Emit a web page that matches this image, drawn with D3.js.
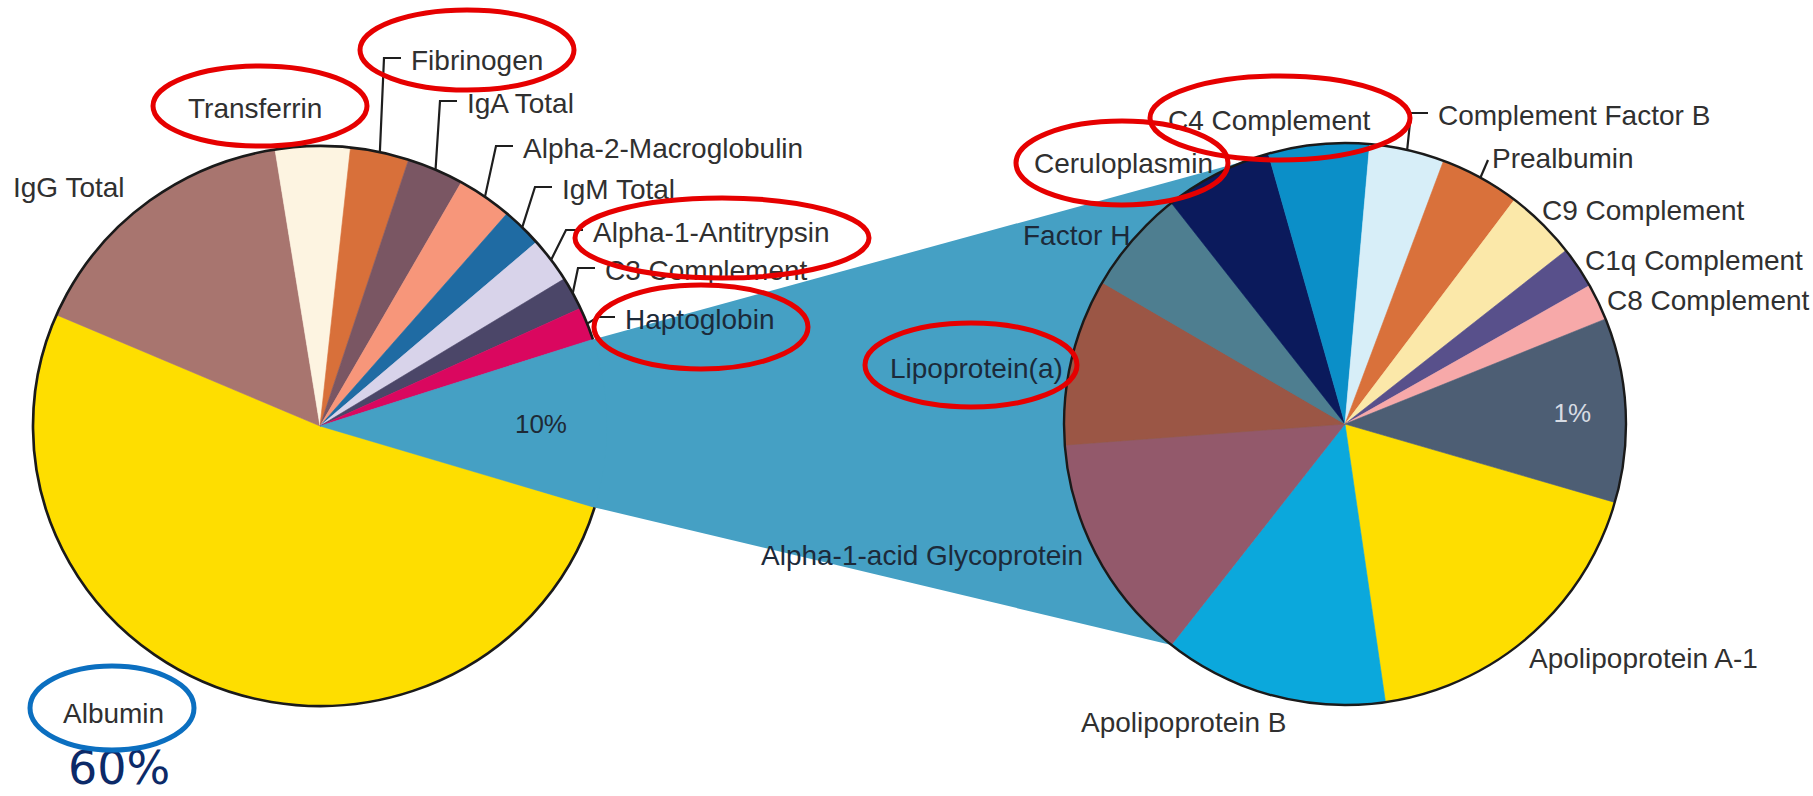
<!DOCTYPE html>
<html>
<head>
<meta charset="utf-8">
<script src="https://cdn.jsdelivr.net/npm/d3@7"></script>
<style>
  html, body { margin: 0; padding: 0; background: #fff; }
  svg { display: block; }
  text { font-family: "Liberation Sans", Arial, sans-serif; }
</style>
</head>
<body>
<svg id="chart" width="1813" height="796"></svg>
<script>
// plasma proteins, clockwise from the start of Albumin
const plasmaProteins = ['Albumin', 'IgG Total', 'Transferrin', 'Fibrinogen', 'IgA Total',
  'Alpha-2-Macroglobulin', 'IgM Total', 'Alpha-1-Antitrypsin', 'C3 Complement', 'Haptoglobin', 'Other'];
const plasmaShares = [51.8, 16.0, 4.2, 3.3, 3.2, 3.1, 2.3, 2.6, 1.9, 1.9, 9.7];
const plasmaColors = ['#fede00', '#a8756f', '#fdf4e1', '#d8703a', '#7a5663', '#f7967a',
  '#1f6ba3', '#d8d3ea', '#4b4668', '#da075f', '#45a0c4'];

// the "10%" slice broken down, clockwise from the start of Apolipoprotein A-1
const minorProteins = ['Apolipoprotein A-1', 'Apolipoprotein B', 'Alpha-1-acid Glycoprotein',
  'Lipoprotein(a)', 'Factor H', 'Ceruloplasmin', 'C4 Complement', 'Complement Factor B',
  'Prealbumin', 'C9 Complement', 'C1q Complement', 'C8 Complement', 'Other minor'];
const minorShares = [18.2, 12.9, 13.2, 9.6, 6.0, 6.2, 5.8, 4.3, 4.6, 4.1, 2.4, 2.1, 10.6];
const minorColors = ['#fede00', '#0ba8dc', '#93596b', '#9b5645', '#4e7e90', '#0b1a5c',
  '#0b8fc8', '#d7eef8', '#d9713b', '#fbe8a9', '#58508b', '#f7a9a9', '#4d5e74'];

const pctLabels = { left: '10%', right: '1%', albumin: '60%' };
const circled = ['Transferrin', 'Fibrinogen', 'Alpha-1-Antitrypsin', 'Haptoglobin',
  'Lipoprotein(a)', 'Ceruloplasmin', 'C4 Complement'];

const rad = d => d * Math.PI / 180;
const svg = d3.select('#chart');

// geometry
const L = { cx: 320, cy: 426, r: 280, sx: 1.025, start: rad(106.9) };
const R = { cx: 1345, cy: 424, r: 281, start: rad(106.2) };
const connectorTop = rad(340);

const leftPt = (a, k = 1) => [L.cx + L.sx * L.r * k * Math.sin(a), L.cy - L.r * k * Math.cos(a)];
const rightPt = (a, k = 1) => [R.cx + R.r * k * Math.sin(a), R.cy - R.r * k * Math.cos(a)];

const pieL = d3.pie().sort(null).value(d => d).startAngle(L.start).endAngle(L.start + 2 * Math.PI);
const pieR = d3.pie().sort(null).value(d => d).startAngle(R.start).endAngle(R.start + 2 * Math.PI);
const arcsL = pieL(plasmaShares);
const arcsR = pieR(minorShares);

// connector band between the two pies
const other = arcsL[arcsL.length - 1];
const band = [
  [L.cx, L.cy], leftPt(other.startAngle), rightPt(connectorTop),
  [R.cx, R.cy], rightPt(arcsR[1].endAngle), leftPt(other.endAngle)
];
svg.append('path')
  .attr('d', d3.line()(band) + 'Z')
  .attr('fill', plasmaColors[plasmaColors.length - 1]);

// left pie
const leftG = svg.append('g')
  .attr('transform', `translate(${L.cx},${L.cy}) scale(${L.sx},1)`);
const arcL = d3.arc().innerRadius(0).outerRadius(L.r);
leftG.selectAll('path.slice').data(arcsL).join('path')
  .attr('class', 'slice')
  .attr('d', arcL)
  .attr('fill', (d, i) => plasmaColors[i])
  .attr('stroke', (d, i) => plasmaColors[i])
  .attr('stroke-width', 0.6);
const rim = d3.path();
rim.arc(0, 0, L.r, other.endAngle - 2 * Math.PI - Math.PI / 2, other.startAngle - Math.PI / 2, false);
leftG.append('path')
  .attr('d', rim.toString())
  .attr('fill', 'none')
  .attr('stroke', '#1a1a1a')
  .attr('stroke-width', 2.6);

// right pie
const rightG = svg.append('g').attr('transform', `translate(${R.cx},${R.cy})`);
const arcR = d3.arc().innerRadius(0).outerRadius(R.r);
rightG.selectAll('path.slice').data(arcsR).join('path')
  .attr('class', 'slice')
  .attr('d', arcR)
  .attr('fill', (d, i) => minorColors[i])
  .attr('stroke', (d, i) => minorColors[i])
  .attr('stroke-width', 0.6);
rightG.append('circle')
  .attr('r', R.r)
  .attr('fill', 'none')
  .attr('stroke', '#1a1a1a')
  .attr('stroke-width', 2.4);

// label placement (left edge x, middle y); leader = draw an elbow line to the slice
const labelPos = {
  'IgG Total': [13, 187], 'Transferrin': [188, 108], 'Fibrinogen': [411, 60, true],
  'IgA Total': [467, 103, true], 'Alpha-2-Macroglobulin': [523, 148, true],
  'IgM Total': [562, 189, true], 'Alpha-1-Antitrypsin': [593, 232, true],
  'C3 Complement': [605, 270, true], 'Haptoglobin': [625, 319, true], 'Albumin': [63, 713],
  'C4 Complement': [1168, 120], 'Complement Factor B': [1438, 115, true],
  'Prealbumin': [1492, 158, true], 'C9 Complement': [1542, 210], 'C1q Complement': [1585, 260],
  'C8 Complement': [1607, 300], 'Ceruloplasmin': [1034, 163], 'Factor H': [1023, 235],
  'Lipoprotein(a)': [890, 368], 'Alpha-1-acid Glycoprotein': [761, 555],
  'Apolipoprotein B': [1081, 722], 'Apolipoprotein A-1': [1529, 658]
};
const onBlue = ['Factor H', 'Lipoprotein(a)', 'Haptoglobin', 'Alpha-1-acid Glycoprotein'];

const items = [];
arcsL.forEach((d, i) => items.push({ name: plasmaProteins[i], mid: (d.startAngle + d.endAngle) / 2, pt: leftPt }));
arcsR.forEach((d, i) => items.push({ name: minorProteins[i], mid: (d.startAngle + d.endAngle) / 2, pt: rightPt }));

const leaders = svg.append('g').attr('fill', 'none').attr('stroke', '#1e1e1e').attr('stroke-width', 2.2);
const labels = svg.append('g').attr('font-size', 28);
items.filter(d => labelPos[d.name]).forEach(d => {
  const [x, y, lead] = labelPos[d.name];
  if (lead) {
    const p0 = d.pt(d.mid);
    const short = d.name === 'Prealbumin';
    const pts = short ? [p0, [x - 4, y + 2]] : [p0, [x - 27, y - 2], [x - 10, y - 2]];
    leaders.append('path').attr('d', d3.line()(pts));
  }
  labels.append('text')
    .attr('x', x).attr('y', y).attr('dy', '0.35em')
    .attr('fill', onBlue.includes(d.name) ? '#1c2a3a' : '#303030')
    .text(d.name);
});

// percentage labels
const otherL = arcsL[arcsL.length - 1];
const otherR = arcsR[arcsR.length - 1];
const p10 = leftPt((otherL.startAngle + otherL.endAngle) / 2, 0.77);
svg.append('text').attr('x', p10[0]).attr('y', p10[1]).attr('dy', '0.35em')
  .attr('text-anchor', 'middle').attr('font-size', 26).attr('fill', '#1e2a36')
  .text(pctLabels.left);
const p1 = rightPt((otherR.startAngle + otherR.endAngle) / 2, 0.81);
svg.append('text').attr('x', p1[0]).attr('y', p1[1]).attr('dy', '0.35em')
  .attr('text-anchor', 'middle').attr('font-size', 26).attr('fill', '#d6dbe3')
  .text(pctLabels.right);
svg.append('text').attr('x', 119).attr('y', 784)
  .attr('text-anchor', 'middle').attr('font-size', 46)
  .style('font-family', '"DejaVu Sans", sans-serif').attr('fill', '#0c2a68')
  .text(pctLabels.albumin);

// hand-drawn annotation ellipses
const rings = {
  'Transferrin': [260, 106, 107, 40], 'Fibrinogen': [467, 50, 107, 40],
  'Alpha-1-Antitrypsin': [722, 238, 147, 40], 'Haptoglobin': [701, 327, 107, 42],
  'Lipoprotein(a)': [971, 365, 106, 42], 'Ceruloplasmin': [1122, 163, 106, 42],
  'C4 Complement': [1280, 118, 130, 42]
};
const marks = svg.append('g').attr('fill', 'none').attr('stroke-width', 5);
circled.forEach(n => {
  const [cx, cy, rx, ry] = rings[n];
  marks.append('ellipse').attr('cx', cx).attr('cy', cy).attr('rx', rx).attr('ry', ry)
    .attr('stroke', '#e60000');
});
marks.append('ellipse').attr('cx', 112).attr('cy', 708).attr('rx', 82).attr('ry', 42)
  .attr('stroke', '#0b6fc0');
</script>
</body>
</html>
